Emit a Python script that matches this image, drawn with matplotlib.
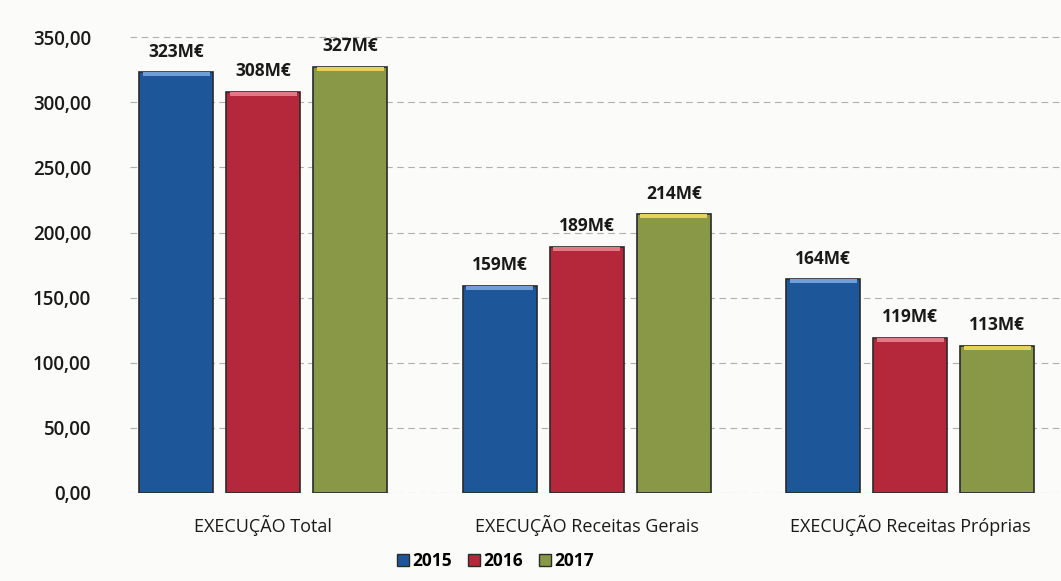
import matplotlib
matplotlib.use("Agg")
import matplotlib.pyplot as plt
import numpy as np
from matplotlib.patches import Patch

categories = ["EXECUÇÃO Total", "EXECUÇÃO Receitas Gerais", "EXECUÇÃO Receitas Próprias"]
years = ["2015", "2016", "2017"]
v2015 = [323, 159, 164]
v2016 = [308, 189, 119]
v2017 = [327, 214, 113]
labels2015 = ["323M€", "159M€", "164M€"]
labels2016 = ["308M€", "189M€", "119M€"]
labels2017 = ["327M€", "214M€", "113M€"]
yticks = [0, 50, 100, 150, 200, 250, 300, 350]

colors = ["#1d5799", "#b5283b", "#889846"]
tops = ["#6f9fd6", "#e07a86", "#e3d35a"]

plt.rcParams['font.family'] = ['Open Sans', 'DejaVu Sans']

fig = plt.figure(figsize=(10.61, 5.81), dpi=100)
fig.patch.set_facecolor("#fbfbf9")
ax = fig.add_axes([0.1225, 0.1515, 0.8775, 0.8225])
ax.set_facecolor("#fbfbf9")

x = np.arange(len(categories))
width = 0.23
step = 0.269
series = [(v2015, labels2015), (v2016, labels2016), (v2017, labels2017)]
for i, (vals, labs) in enumerate(series):
    xs = x + (i - 1) * step
    ax.bar(xs, vals, width=width, color=colors[i], edgecolor="#2a2a2a",
           linewidth=1.2, zorder=3, label=years[i])
    ax.bar(xs, [3] * len(vals), bottom=[v - 3 for v in vals], width=width * 0.9,
           color=tops[i], zorder=4, linewidth=0)
    for xx, v, lab in zip(xs, vals, labs):
        ax.text(xx, v + 9, lab, ha="center", va="bottom", fontsize=12.5,
                fontweight="bold", color="#1a1a1a", zorder=5)

ax.set_xlim(-0.412, 2.466)
ax.set_ylim(0, 367)
ax.set_yticks(yticks)
ax.set_yticklabels([f"{t:.2f}".replace(".", ",") for t in yticks],
                   fontsize=13.5, fontweight="semibold", color="#1a1a1a")
ax.set_xticks(x)
ax.set_xticklabels(categories, fontsize=13, fontweight="medium", color="#1a1a1a")
ax.tick_params(axis="both", length=0)
ax.tick_params(axis="y", pad=28)
ax.tick_params(axis="x", pad=16)
ax.grid(axis="y", linestyle=(0, (6, 4)), color="#b0b0b0", linewidth=0.8, zorder=0)
for s in ax.spines.values():
    s.set_visible(False)

handles = [Patch(facecolor=colors[i], edgecolor="#2a2a2a", label=years[i]) for i in range(3)]
fig.legend(handles=handles, loc="lower center", bbox_to_anchor=(0.467, -0.008), ncol=3,
           frameon=False, handlelength=0.7, handleheight=0.7,
           handletextpad=0.2, columnspacing=0.9,
           prop={"weight": "bold", "size": 12.5})

fig.savefig("out.png", dpi=100, facecolor=fig.get_facecolor())
